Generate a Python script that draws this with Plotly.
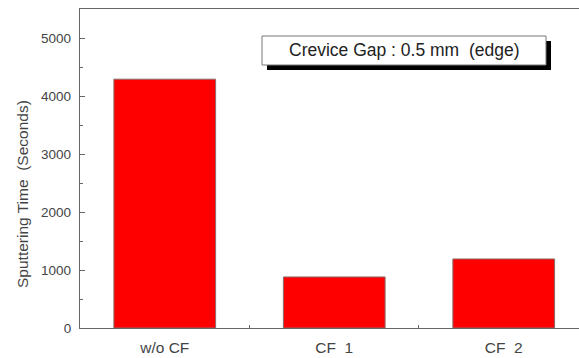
import plotly.graph_objects as go

categories = ["w/o CF", "CF  1", "CF  2"]
sputtering_time = [4290, 880, 1190]
y_tick_vals = [0, 1000, 2000, 3000, 4000, 5000]
y_tick_text = ["0", "1000", "2000", "3000", "4000", "5000"]
annotation_text = "Crevice Gap : 0.5 mm  (edge)"
y_title = "Sputtering Time  (Seconds)"

W, H = 579, 358
L, R, T, B = 80, 0, 9, 30
pw, ph = W - L - R, H - T - B

def px_x(p):
    return (p - L) / pw

def px_y(p):
    return (H - B - p) / ph

fig = go.Figure()
fig.add_trace(go.Bar(
    x=categories, y=sputtering_time,
    width=0.6,
    marker=dict(color="#FF0000", line=dict(color="#8a6a6a", width=1)),
))

axis_color = "#666666"
text_color = "#444444"

fig.update_layout(
    width=W, height=H,
    margin=dict(l=L, r=R, t=T, b=B, pad=0, autoexpand=False),
    paper_bgcolor="white", plot_bgcolor="white",
    showlegend=False,
    font=dict(family="Liberation Sans, Arial, sans-serif", color=text_color),
    bargap=0.4,
)
fig.update_xaxes(
    type="category", automargin=False,
    range=[-0.5, 2.444],
    showline=True, linecolor=axis_color, linewidth=1.3, mirror=True,
    ticks="inside", ticklen=3, tickcolor=axis_color, tickson="boundaries",
    showgrid=False, zeroline=False,
    tickfont=dict(size=15.5, color=text_color),
    ticklabelstandoff=5,
)
fig.update_yaxes(
    automargin=False,
    range=[0, 5500],
    tickvals=y_tick_vals, ticktext=y_tick_text,
    showline=True, linecolor=axis_color, linewidth=1.3,
    ticks="inside", ticklen=5, tickcolor=axis_color,
    minor=dict(tickvals=[500, 1500, 2500, 3500, 4500], ticks="inside", ticklen=3, tickcolor=axis_color),
    showgrid=False, zeroline=False,
    tickfont=dict(size=13.5, color=text_color),
    ticklabelstandoff=5,
)

# y-axis title as annotation
fig.add_annotation(
    text=y_title, textangle=-90,
    xref="paper", yref="paper",
    x=px_x(22), y=px_y(194),
    showarrow=False, font=dict(size=15.5, color=text_color),
    xanchor="center", yanchor="middle",
)

# annotation box with shadow
bx0, bx1, by0, by1 = 262, 546, 36, 65
sh = 5
fig.add_shape(type="rect", xref="paper", yref="paper",
              x0=px_x(bx0 + sh), x1=px_x(bx1 + sh), y0=px_y(by0 + sh), y1=px_y(by1 + sh),
              fillcolor="black", line=dict(width=0), layer="above")
fig.add_shape(type="rect", xref="paper", yref="paper",
              x0=px_x(bx0), x1=px_x(bx1), y0=px_y(by0), y1=px_y(by1),
              fillcolor="white", line=dict(color="#777777", width=1), layer="above")
fig.add_annotation(
    text=annotation_text,
    xref="paper", yref="paper",
    x=px_x((bx0 + bx1) / 2), y=px_y((by0 + by1) / 2),
    showarrow=False, font=dict(size=17.5, color="#222222"),
    xanchor="center", yanchor="middle",
)

fig.write_html("out.html", config={"displayModeBar": False},
               post_script="document.body.style.margin='0';")
